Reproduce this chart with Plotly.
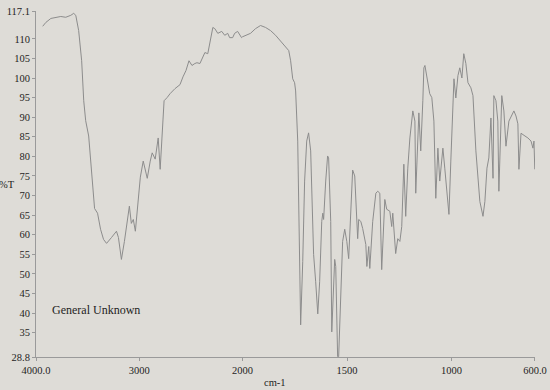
import plotly.graph_objects as go

# wavenumber (cm-1) and %T
wavenumber = [3935, 3904, 3856, 3808, 3760, 3712, 3663, 3635, 3615, 3587, 3558, 3538, 3519, 3490,
              3462, 3442, 3433, 3404, 3375, 3346, 3317, 3269, 3221, 3202, 3173, 3144, 3115, 3096,
              3077, 3058, 3038, 3010, 2990, 2962, 2942, 2923, 2894, 2875, 2846, 2817, 2798, 2779,
              2760, 2731, 2702, 2654, 2606, 2577, 2548, 2519, 2490, 2462, 2442, 2413, 2385, 2365,
              2337, 2317, 2298, 2288, 2269, 2240, 2202, 2173, 2144, 2125, 2096, 2077, 2048, 2010,
              1986, 1962, 1938, 1914, 1890, 1866, 1842, 1818, 1794, 1779, 1770, 1760, 1751, 1746,
              1736, 1727, 1722, 1712, 1703, 1693, 1684, 1674, 1664, 1660, 1650, 1640, 1631, 1621,
              1616, 1612, 1602, 1593, 1588, 1578, 1573, 1564, 1559, 1554, 1545, 1540, 1530, 1521,
              1511, 1501, 1492, 1482, 1473, 1463, 1453, 1449, 1444, 1434, 1425, 1410, 1405, 1396,
              1391, 1377, 1362, 1353, 1343, 1334, 1319, 1310, 1295, 1286, 1281, 1267, 1257, 1247,
              1238, 1228, 1219, 1209, 1199, 1185, 1175, 1171, 1156, 1147, 1137, 1132, 1127, 1123,
              1113, 1104, 1094, 1084, 1075, 1065, 1056, 1041, 1032, 1012, 1003, 988, 979, 969,
              960, 950, 941, 931, 921, 907, 897, 883, 864, 849, 840, 830, 821, 811,
              801, 797, 787, 778, 773, 763, 759, 749, 739, 725, 710, 701, 691, 682,
              677, 667, 648, 634, 619, 610, 605, 601]
transmittance = [113.2, 114.2, 115.2, 115.5, 115.7, 115.5, 116.0, 116.5, 116.0, 112.1, 104.4, 94.2, 89.1, 85.2,
                 76.2, 69.8, 66.7, 65.5, 61.4, 58.8, 57.8, 59.3, 60.9, 59.3, 53.7, 58.3, 63.9, 67.3,
                 62.9, 63.9, 60.9, 69.8, 74.7, 78.8, 76.2, 74.4, 78.8, 80.9, 79.3, 84.7, 76.7, 86.5,
                 94.2, 95.0, 96.0, 97.3, 98.3, 100.3, 101.9, 104.4, 103.2, 103.7, 103.9, 103.7, 105.5, 106.5,
                 106.2, 108.8, 112.1, 112.9, 112.6, 111.4, 111.9, 110.9, 111.4, 110.3, 110.3, 111.4, 111.9, 110.3,
                 110.9, 111.4, 112.6, 113.4, 112.9, 112.1, 110.9, 109.3, 108.0, 107.0, 104.4, 99.8, 98.8, 96.7,
                 83.9, 55.7, 37.0, 53.2, 73.7, 83.9, 86.0, 81.4, 60.9, 55.0, 48.0, 39.8, 48.0, 63.4,
                 65.5, 63.9, 73.7, 80.1, 79.6, 63.4, 35.2, 45.5, 53.7, 51.9, 28.9, 28.9, 42.9, 58.3,
                 61.4, 58.3, 53.9, 66.0, 76.5, 75.0, 62.1, 59.0, 63.9, 63.4, 61.6, 57.5, 51.9, 57.0,
                 51.4, 63.4, 70.6, 71.1, 70.6, 51.1, 69.0, 66.5, 66.0, 62.1, 65.5, 55.2, 59.0, 58.3,
                 62.1, 78.0, 64.7, 77.0, 84.7, 91.6, 89.0, 70.6, 91.1, 81.4, 94.2, 102.6, 103.2, 101.9,
                 99.3, 96.0, 95.0, 89.0, 69.3, 82.1, 73.7, 82.1, 77.0, 65.2, 78.8, 99.8, 94.9, 100.6,
                 102.6, 100.0, 106.2, 103.7, 98.8, 97.5, 95.5, 81.4, 68.5, 64.7, 68.5, 77.0, 79.6, 89.8,
                 74.4, 95.5, 94.2, 89.0, 71.1, 89.0, 95.5, 91.6, 82.6, 89.0, 90.9, 91.6, 90.3, 88.3,
                 76.7, 85.9, 85.2, 84.7, 83.9, 82.1, 83.9, 76.7]

x_left_ticks = [4000, 3000]
x_left_text = ["4000.0", "3000"]
x_right_ticks = [2000, 1500, 1000, 600]
x_right_text = ["2000", "1500", "1000", "600.0"]
y_ticks = [28.8, 35, 40, 45, 50, 55, 60, 65, 70, 75, 80, 85, 90, 95, 100, 105, 110, 117.1]
y_text = ["28.8", "35", "40", "45", "50", "55", "60", "65", "70", "75", "80", "85", "90", "95",
          "100", "105", "110", "117.1"]

BREAK = 2000
left_w = [w for w in wavenumber if w >= BREAK]
left_t = [t for w, t in zip(wavenumber, transmittance) if w >= BREAK]
right_w = [w for w in wavenumber if w <= BREAK]
right_t = [t for w, t in zip(wavenumber, transmittance) if w <= BREAK]
# join the two halves at the break
if left_w and right_w:
    right_w = [left_w[-1]] + right_w
    right_t = [left_t[-1]] + right_t
    left_w = left_w + [right_w[1]]
    left_t = left_t + [right_t[1]]

line_style = dict(color="#8c8c8c", width=1)
fig = go.Figure()
fig.add_trace(go.Scatter(x=left_w, y=left_t, mode="lines", line=line_style,
                         xaxis="x", yaxis="y", showlegend=False, hoverinfo="skip"))
fig.add_trace(go.Scatter(x=right_w, y=right_t, mode="lines", line=line_style,
                         xaxis="x2", yaxis="y", showlegend=False, hoverinfo="skip"))

font = dict(family="Liberation Serif, Times New Roman, serif", size=10.5, color="#1e1e1e")
axis_common = dict(showgrid=False, zeroline=False, showline=True, linecolor="#9a9a9a",
                   linewidth=1, ticks="outside", ticklen=3, tickcolor="#9a9a9a",
                   tickfont=font, tickmode="array", automargin=False)
bg = "#dedcd7"
fig.update_layout(
    width=550, height=390,
    margin=dict(l=36, r=15, t=11, b=33),
    paper_bgcolor=bg, plot_bgcolor=bg,
    xaxis=dict(domain=[0, 0.414], range=[4000, 2000], tickvals=x_left_ticks,
               ticktext=x_left_text, anchor="y", **axis_common),
    xaxis2=dict(domain=[0.414, 1], range=[2000, 600], tickvals=x_right_ticks,
                ticktext=x_right_text, anchor="y", **axis_common),
    yaxis=dict(range=[28.8, 117.1], tickvals=y_ticks, ticktext=y_text,
               anchor="x", **axis_common),
    annotations=[
        dict(text="%T", x=-0.058, y=0.5, xref="paper", yref="paper", showarrow=False,
             xanchor="center", yanchor="middle", font=font),
        dict(text="cm-1", x=0.478, y=-0.075, xref="paper", yref="paper", showarrow=False,
             xanchor="center", yanchor="middle", font=font),
        dict(text="General Unknown", x=0.028, y=0.135, xref="paper", yref="paper",
             showarrow=False, xanchor="left", yanchor="middle",
             font=dict(family=font["family"], size=12, color="#1e1e1e")),
    ],
)
fig.write_html("out.html")
